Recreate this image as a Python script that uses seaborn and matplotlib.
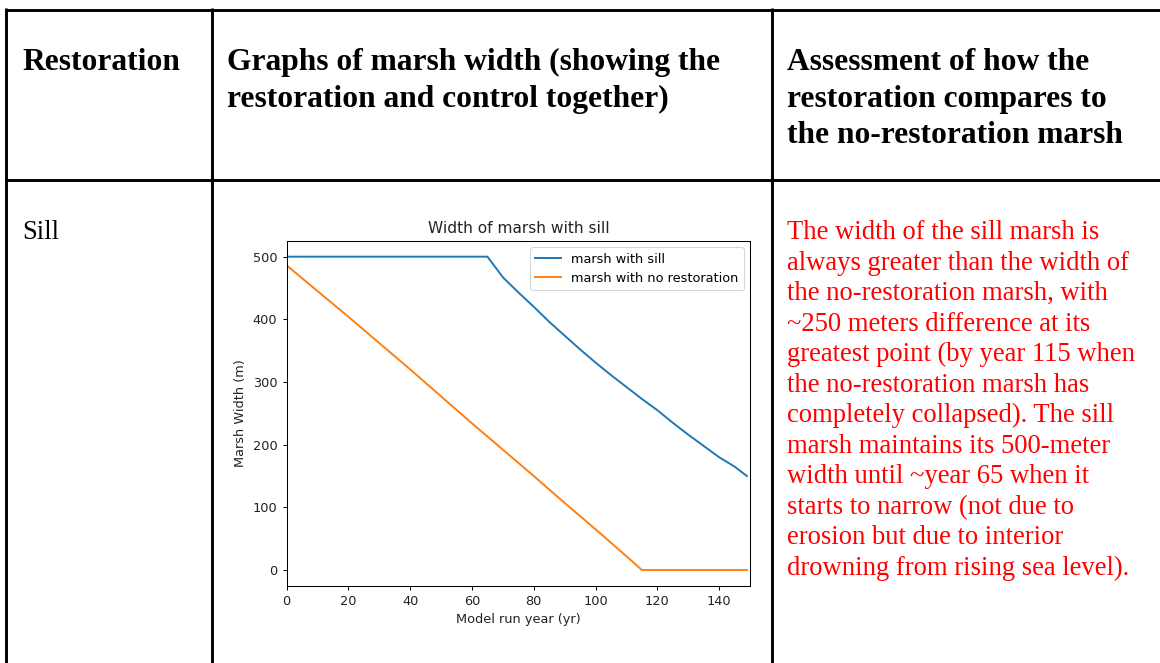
import matplotlib
matplotlib.use("Agg")
import matplotlib.pyplot as plt
import seaborn as sns
import pandas as pd
from matplotlib.lines import Line2D

# ---------------- data ----------------
sill_years = [0, 65, 70, 75, 80, 85, 90, 95, 100, 105, 110, 115, 120, 125, 130, 135, 140, 145, 149]
sill_width = [500, 500, 467, 443, 420, 396, 374, 352, 331, 311, 292, 273, 255, 235, 216, 198, 180, 165, 150]

norest_years = [0, 10, 20, 30, 40, 50, 60, 70, 80, 90, 100, 110, 115, 149]
norest_width = [486, 445, 404, 362, 320, 277, 234, 192, 150, 107, 65, 22, 0, 0]

series_labels = ["marsh with sill", "marsh with no restoration"]
x_ticks = [0, 20, 40, 60, 80, 100, 120, 140]
y_ticks = [0, 100, 200, 300, 400, 500]

chart_title = "Width of marsh with sill"
x_label = "Model run year (yr)"
y_label = "Marsh Width (m)"

col1_header = ["Restoration"]
col2_header = ["Graphs of marsh width (showing the", "restoration and control together)"]
col3_header = ["Assessment of how the", "restoration compares to", "the no-restoration marsh"]
row_label = "Sill"
assessment_lines = [
    "The width of the sill marsh is",
    "always greater than the width of",
    "the no-restoration marsh, with",
    "~250 meters difference at its",
    "greatest point (by year 115 when",
    "the no-restoration marsh has",
    "completely collapsed). The sill",
    "marsh maintains its 500-meter",
    "width until ~year 65 when it",
    "starts to narrow (not due to",
    "erosion but due to interior",
    "drowning from rising sea level).",
]

# ---------------- figure ----------------
W, H = 1160, 663
fig = plt.figure(figsize=(W / 100, H / 100), dpi=100)
fig.patch.set_facecolor("white")


def fx(px):
    return px / W


def fy(py):
    return 1 - py / H


# table borders
lw_tab = 2.1
def hline(y, x0, x1):
    fig.add_artist(Line2D([fx(x0), fx(x1)], [fy(y), fy(y)], transform=fig.transFigure,
                          color="black", lw=lw_tab, solid_capstyle="butt"))


def vline(x, y0, y1):
    fig.add_artist(Line2D([fx(x), fx(x)], [fy(y0), fy(y1)], transform=fig.transFigure,
                          color="black", lw=lw_tab, solid_capstyle="butt"))


hline(9.7, 5, 1160)
hline(180.3, 5, 1160)
vline(6.3, 8.3, 663)
vline(212.3, 8.3, 663)
vline(772.3, 8.3, 663)

# table text
serif = "Liberation Serif"
hdr_size = 22.7
body_size = 19.2
hdr_base = [70, 106.5, 143]
for i, t in enumerate(col1_header):
    fig.text(fx(22), fy(hdr_base[i]), t, fontsize=hdr_size, fontweight="bold", family=serif, va="baseline")
for i, t in enumerate(col2_header):
    fig.text(fx(227), fy(hdr_base[i]), t, fontsize=hdr_size, fontweight="bold", family=serif, va="baseline")
for i, t in enumerate(col3_header):
    fig.text(fx(787), fy(hdr_base[i]), t, fontsize=hdr_size, fontweight="bold", family=serif, va="baseline")

fig.text(fx(22), fy(239), row_label, fontsize=body_size, family=serif, va="baseline")
for i, t in enumerate(assessment_lines):
    fig.text(fx(787), fy(239 + i * 30.55), t, fontsize=body_size, family=serif, va="baseline", color="#ff0000")

# ---------------- chart ----------------
s = 0.925
ax = fig.add_axes([fx(286.7), fy(585.7), fx(750) - fx(286.7), (585.7 - 241) / H])

df_sill = pd.DataFrame({"year": sill_years, "width": sill_width})
df_none = pd.DataFrame({"year": norest_years, "width": norest_width})
sns.lineplot(data=df_sill, x="year", y="width", ax=ax, color="#1f77b4", lw=1.5 * s, label=series_labels[0])
sns.lineplot(data=df_none, x="year", y="width", ax=ax, color="#ff7f0e", lw=1.5 * s, label=series_labels[1])

ax.set_xlim(0, 150)
ax.set_ylim(-25, 525)
ax.set_xticks(x_ticks)
ax.set_yticks(y_ticks)
ax.tick_params(labelsize=10 * s, length=3.5 * s, width=0.8 * s, color="#000000", labelcolor="#222222")
for sp in ax.spines.values():
    sp.set_linewidth(0.8 * s)
ax.set_title(chart_title, fontsize=12 * s, pad=6 * s, color="#222222")
ax.set_xlabel(x_label, fontsize=10 * s, labelpad=4 * s, color="#222222")
ax.set_ylabel(y_label, fontsize=10 * s, labelpad=4 * s, color="#222222")
leg = ax.legend(loc="upper right", fontsize=10 * s, frameon=True)
leg.get_frame().set_linewidth(0.8 * s)

fig.savefig("out.png", dpi=100)
